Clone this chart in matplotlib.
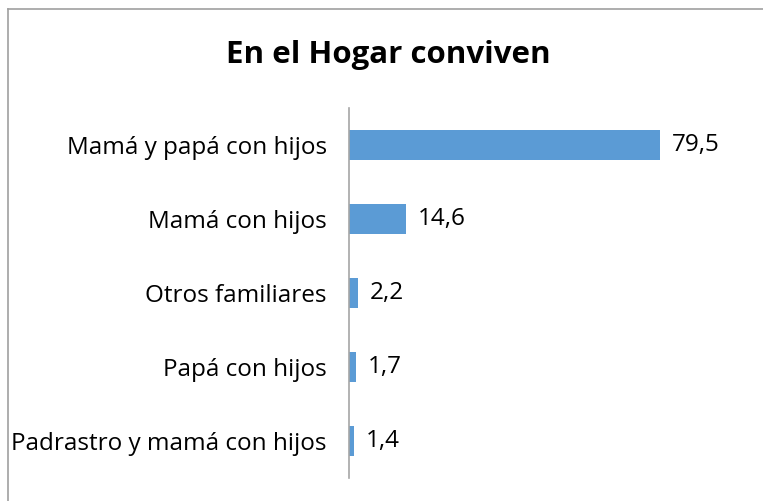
import matplotlib
matplotlib.use("Agg")
import matplotlib.pyplot as plt
from matplotlib.lines import Line2D

categories = ["Mamá y papá con hijos", "Mamá con hijos", "Otros familiares",
              "Papá con hijos", "Padrastro y mamá con hijos"]
values = [79.5, 14.6, 2.2, 1.7, 1.4]
value_labels = ["79,5", "14,6", "2,2", "1,7", "1,4"]

plt.rcParams['font.family'] = ['Open Sans', 'DejaVu Sans']

W, H = 763, 501
fig = plt.figure(figsize=(W / 100, H / 100), dpi=100)
ax = fig.add_axes([349 / W, 1 - 478 / H, 391 / W, 370 / H])

ypos = list(range(len(categories)))
ax.barh(ypos, values, height=0.4, color="#5B9BD5")
ax.set_xlim(0, 100)
ax.set_ylim(len(categories) - 0.5, -0.5)

for y, v, lab in zip(ypos, values, value_labels):
    ax.text(v + 3, y, lab, va="center", ha="left", fontsize=17.5, color="black")

ax.set_yticks(ypos)
ax.set_yticklabels(categories, fontsize=17.5)
ax.tick_params(axis="y", length=0, pad=16)
ax.set_xticks([])
for s in ["top", "right", "bottom"]:
    ax.spines[s].set_visible(False)
ax.spines["left"].set_color("#A6A6A6")
ax.spines["left"].set_linewidth(1.2)

fig.text(388 / W, 1 - 55 / H, "En el Hogar conviven", ha="center", va="center",
         fontsize=22.5, fontweight="bold")

# outer border (top and left only visible)
fig.add_artist(Line2D([7.5 / W, 7.5 / W], [0, 1 - 9 / H], transform=fig.transFigure,
                      color="#A0A0A0", lw=1.2))
fig.add_artist(Line2D([7.5 / W, 1], [1 - 9 / H, 1 - 9 / H], transform=fig.transFigure,
                      color="#A0A0A0", lw=1.2))

fig.savefig("out.png", dpi=100)
